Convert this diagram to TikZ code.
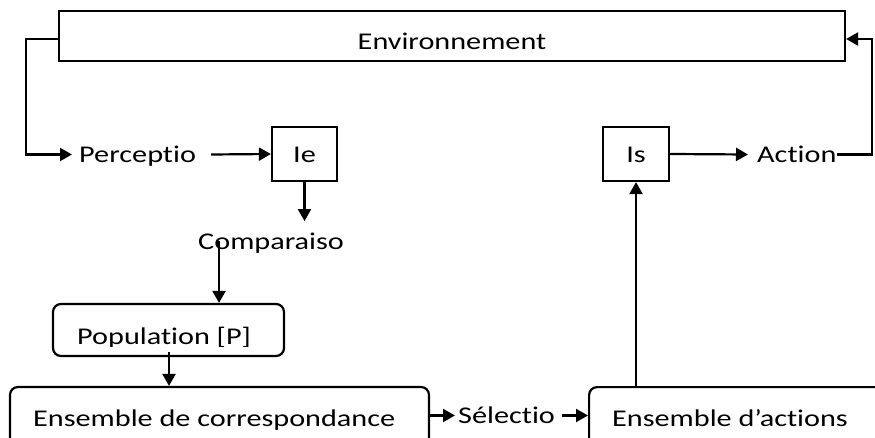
\documentclass[tikz,border=0pt]{standalone}
\usepackage{fontspec}
\setmainfont{Carlito}[FakeStretch=1.26,Ligatures={NoCommon,NoContextual}]
\usetikzlibrary{arrows.meta}
\newcommand{\nl}{\kern0pt }
\begin{document}
\begin{tikzpicture}[x=1pt,y=-1pt,
  ln/.style={line width=2.2pt},
  arr/.style={ln,-{Triangle[length=12pt,width=13pt]}},
  sqbox/.style={draw,line width=2.2pt,inner sep=0pt},
  rbox/.style={draw,line width=2.2pt,rounded corners=8pt,inner sep=0pt},
  txt/.style={inner sep=0pt,font=\fontsize{24}{27}\selectfont,text height=15.5pt,text depth=0pt}]
\clip (0,0) rectangle (875,438);
% boxes
\node[sqbox,minimum width=786pt,minimum height=50pt] (env) at (452,36) {};
\node[txt] (envt) at (452,42) {Environnement};
\node[sqbox,minimum width=65pt,minimum height=54pt] (ie) at (304.5,154) {};
\node[txt] (iet) at (304.5,155) {Ie};
\node[sqbox,minimum width=66pt,minimum height=54pt] (is) at (636,154) {};
\node[txt] (ist) at (636,155) {Is};
\node[rbox,minimum width=231pt,minimum height=52pt] (pop) at (168.5,330) {};
\begin{scope}
\clip (60,300) rectangle (280,346);
\node[txt,anchor=west] (popt) at (77,336.5) {Populat\nl ion [P]};
\end{scope}
\node[rbox,minimum width=419pt,minimum height=62pt] (ens1) at (219.5,418) {};
\node[txt,anchor=west] (ens1t) at (33,418.5) {Ensemble de correspondance};
\node[rbox,minimum width=320pt,minimum height=62pt,anchor=north west] (ens2) at (588,386) {};
\node[txt,anchor=west] (ens2t) at (612,418.5) {Ensemble d’act\nl ions};
% labels
\node[txt,anchor=west] (perc) at (79,154.5) {Percept\nl io};
\node[txt,anchor=west] (comp) at (198,241.5) {Comparaiso};
\node[txt,anchor=west] (sel) at (458,415.5) {Sélect\nl io};
\node[txt,anchor=west] (act) at (757,154.5) {Act\nl ion};
% connectors
\coordinate (l1) at (26,39);
\coordinate (r1) at (872,39);
\draw[arr] (env.west |- l1) -- (l1) |- ([xshift=-7pt]perc.west);
\draw[arr] ([xshift=15pt]perc.east) -- (ie.west);
\draw[arr] (ie.south) -- ++(0,39);
\draw[arr] (219,241) -- (pop.north -| 219,0);
\draw[arr] (169,352) -- (ens1.north -| 169,0);
\draw[arr] (ens1.east |- sel.west) -- ([xshift=-3pt]sel.west);
\draw[arr] ([xshift=7pt]sel.east) -- (ens2.west |- sel.west);
\draw[arr] (ens2.north -| is.south) -- (is.south);
\draw[arr] (is.east) -- ([xshift=-9pt]act.west);
\draw[arr] (act.east) -| (r1) -- (env.east |- r1);
\end{tikzpicture}
\end{document}
